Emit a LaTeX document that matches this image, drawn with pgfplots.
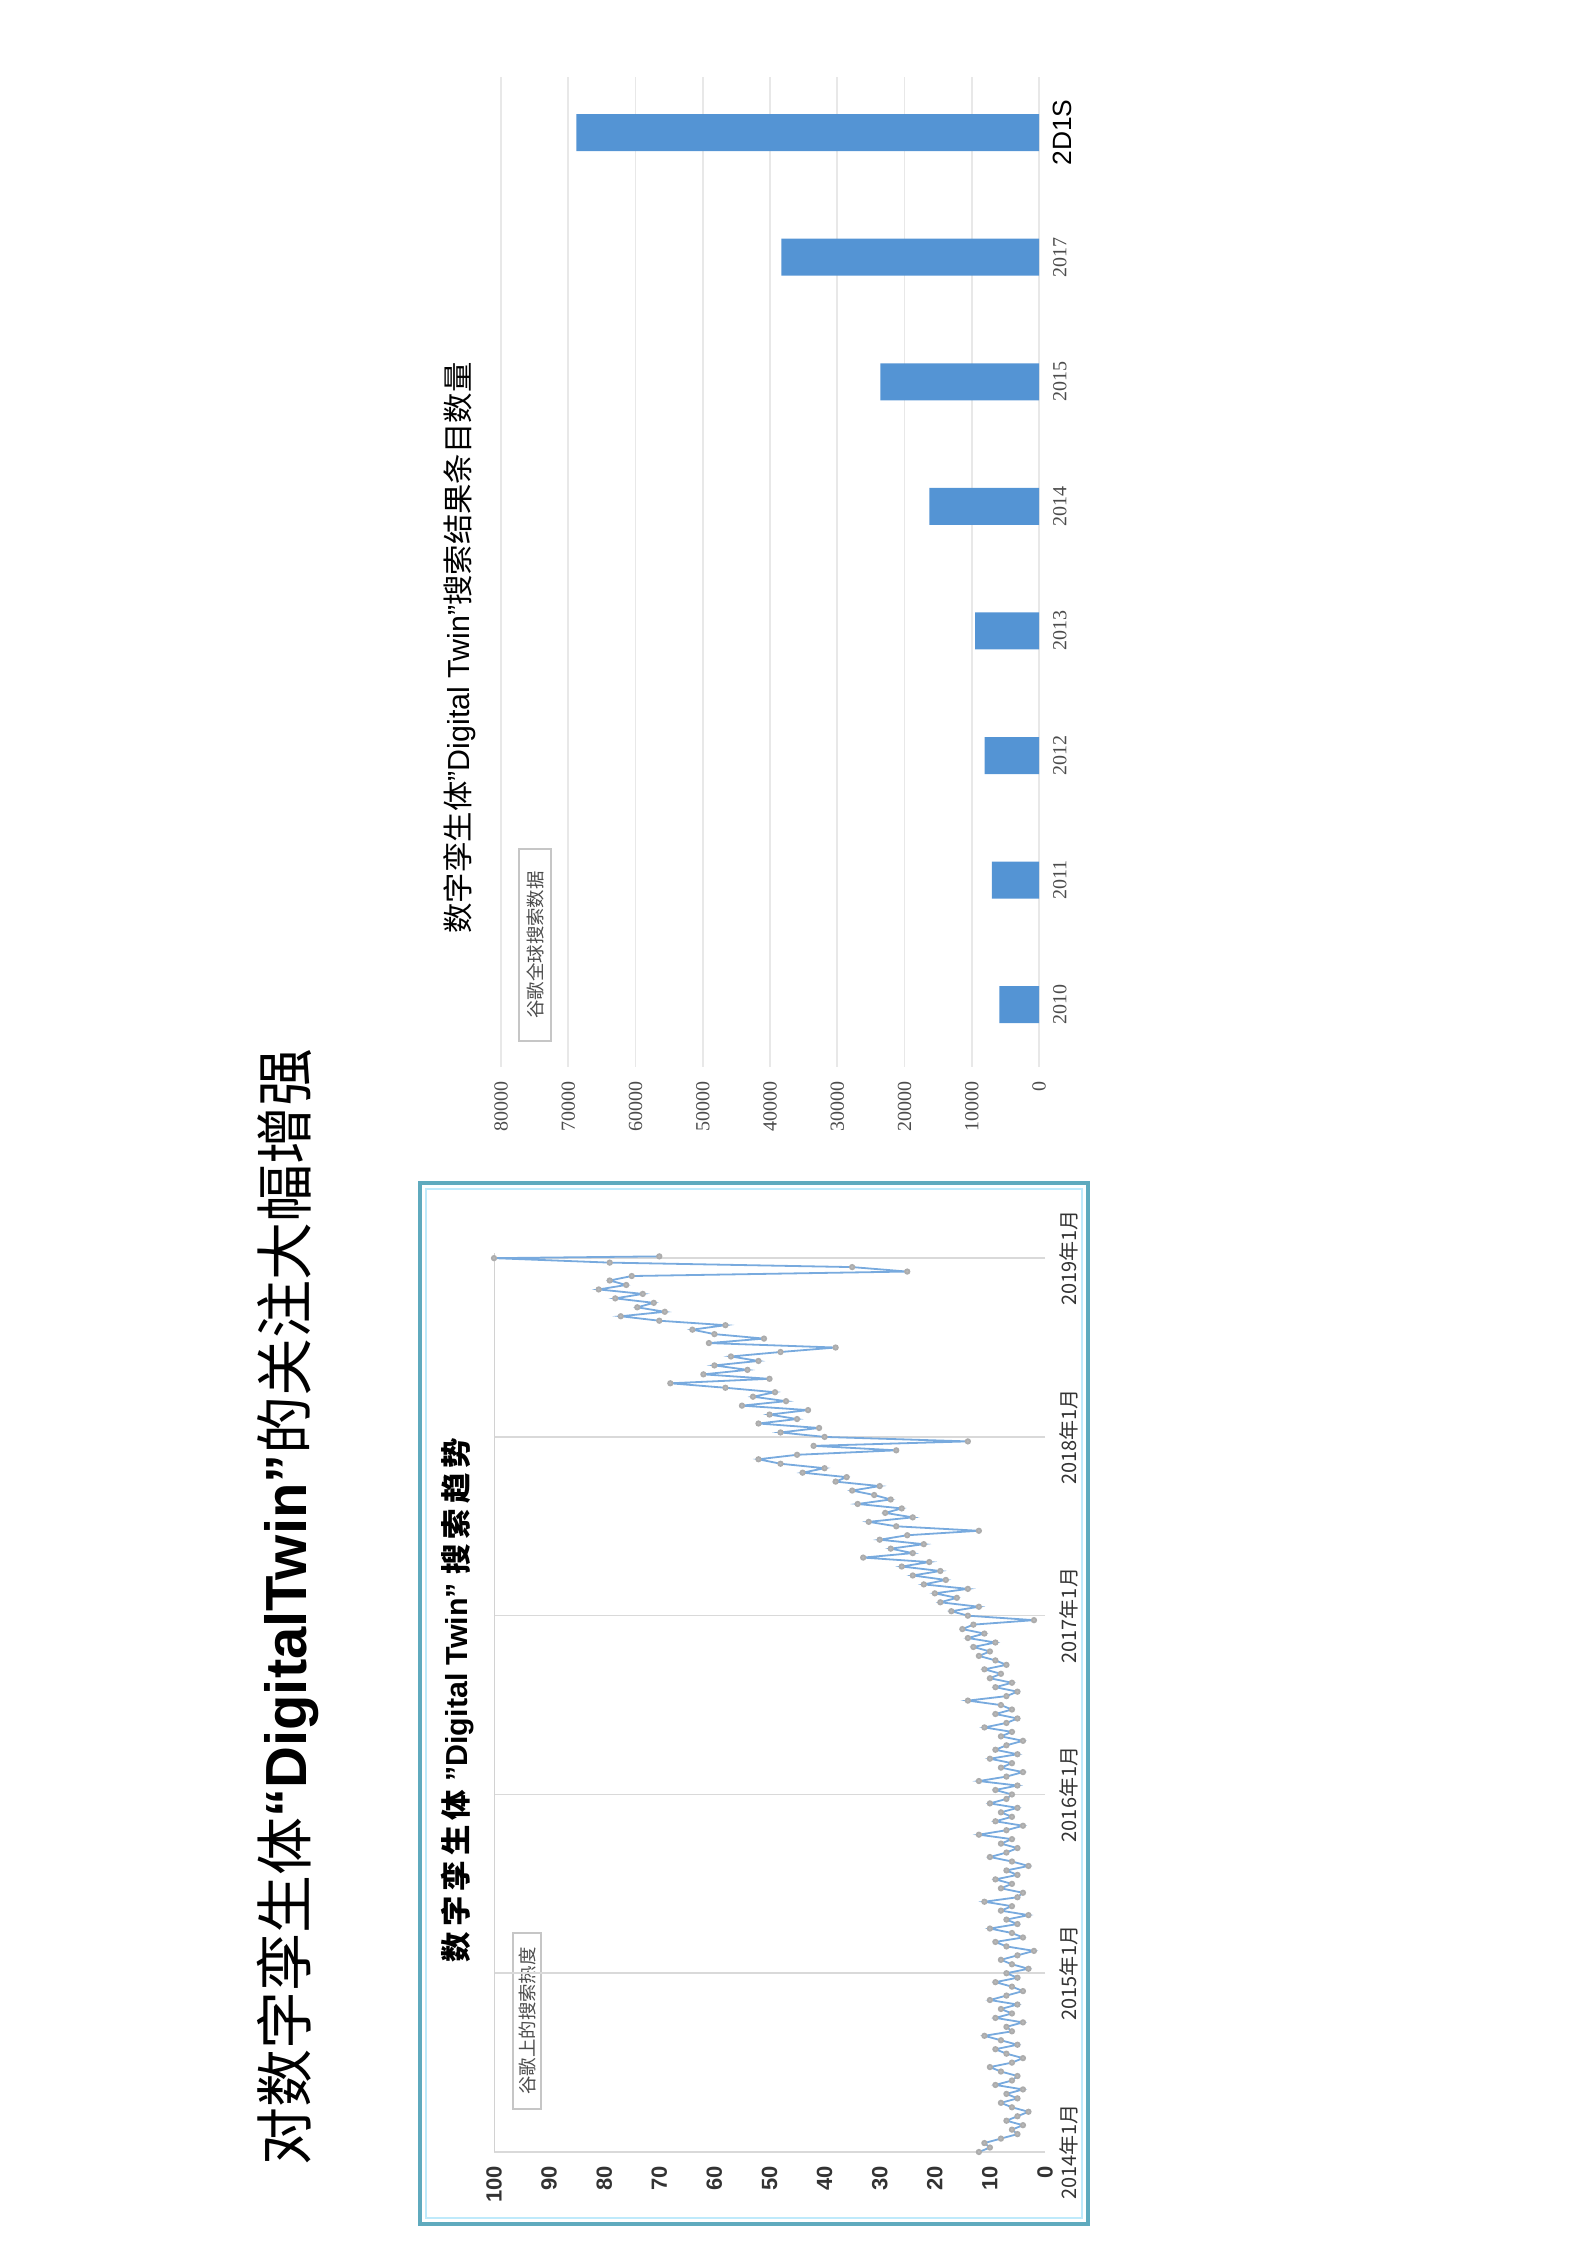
\documentclass[border=0pt]{standalone}
\usepackage{fontspec}
\setmainfont{Liberation Sans}
\newfontfamily\cjk{Noto Sans CJK SC}
\newfontfamily\numserif{Liberation Serif}
\usepackage{pgfplots}
\usepackage{pgfplotstable}
\pgfplotsset{compat=1.18}

\definecolor{barblue}{RGB}{84,148,212}
\definecolor{lineblue}{RGB}{120,170,222}
\definecolor{boxteal}{RGB}{95,170,190}

% search results per year (bar chart)
\pgfplotstableread{
pos val
0 5900
1 7000
2 8100
3 9500
4 16300
5 23600
6 38300
7 68800
}\results

% search interest over time (line chart), years since Jan 2014
\pgfplotstableread{
yr val
0.000 12
0.025 10
0.050 11
0.075 8
0.100 5
0.125 6
0.150 4
0.175 7
0.200 5
0.225 3
0.250 6
0.275 8
0.300 5
0.325 7
0.350 4
0.375 9
0.400 6
0.425 5
0.450 8
0.475 10
0.500 6
0.525 4
0.550 7
0.575 9
0.600 5
0.625 8
0.650 11
0.675 6
0.700 7
0.725 4
0.750 9
0.775 6
0.800 8
0.825 5
0.850 10
0.875 7
0.900 4
0.925 6
0.950 9
0.975 5
1.000 7
1.025 3
1.050 6
1.075 8
1.100 5
1.125 2
1.150 7
1.175 9
1.200 4
1.225 6
1.250 10
1.275 5
1.300 7
1.325 3
1.350 8
1.375 6
1.400 11
1.425 5
1.450 4
1.475 8
1.500 6
1.525 9
1.550 5
1.575 7
1.600 3
1.625 6
1.650 10
1.675 7
1.700 5
1.725 8
1.750 6
1.775 12
1.800 7
1.825 4
1.850 9
1.875 6
1.900 8
1.925 5
1.950 10
1.975 7
2.000 6
2.025 9
2.050 5
2.075 12
2.100 7
2.125 4
2.150 8
2.175 6
2.200 10
2.225 5
2.250 9
2.275 7
2.300 4
2.325 8
2.350 6
2.375 11
2.400 7
2.425 5
2.450 9
2.475 6
2.500 8
2.525 14
2.550 7
2.575 5
2.600 9
2.625 6
2.650 10
2.675 8
2.700 11
2.725 7
2.750 9
2.775 12
2.800 10
2.825 13
2.850 9
2.875 14
2.900 11
2.925 15
2.950 13
2.975 2
3.000 14
3.025 17
3.050 12
3.075 19
3.100 16
3.125 20
3.150 14
3.175 22
3.200 18
3.225 24
3.250 19
3.275 26
3.300 21
3.325 33
3.350 24
3.375 28
3.400 22
3.425 30
3.450 25
3.475 12
3.500 27
3.525 32
3.550 24
3.575 29
3.600 26
3.625 34
3.650 28
3.675 31
3.700 35
3.725 30
3.750 38
3.775 36
3.800 44
3.825 40
3.850 48
3.875 52
3.900 45
3.925 27
3.950 42
3.975 14
4.000 40
4.025 48
4.050 41
4.075 52
4.100 45
4.125 50
4.150 43
4.175 55
4.200 47
4.225 53
4.250 49
4.275 58
4.300 68
4.325 50
4.350 62
4.375 54
4.400 60
4.425 52
4.450 57
4.475 48
4.500 38
4.525 61
4.550 51
4.575 60
4.600 64
4.625 58
4.650 70
4.675 77
4.700 69
4.725 74
4.750 71
4.775 78
4.800 73
4.825 81
4.850 76
4.875 79
4.900 75
4.925 25
4.950 35
4.975 79
5.000 100
5.010 70
}\trend

\begin{document}
\begin{tikzpicture}[x=0.25pt,y=0.25pt]
\path[use as bounding box] (0,0) rectangle (1586,2244);

% page title
\node[rotate=90, font=\fontsize{14.5}{16}\selectfont, inner sep=0pt] at (288,637)
  {{\cjk 对数字孪生体}\textbf{“DigitalTwin”}{\cjk 的关注大幅增强}};

% ---------- bar chart ----------
\node[rotate=90, font=\fontsize{7.6}{9}\selectfont, inner sep=0pt] at (460,1596)
  {{\cjk 数字孪生体}"Digital Twin"{\cjk 搜索结果条目数量}};
\node[rotate=90, draw=gray!45, line width=0.3pt, font=\cjk\fontsize{4.6}{5}\selectfont,
      minimum width=48pt, minimum height=8pt, inner sep=1pt, text=black!70] at (535,1299)
  {谷歌全球搜索数据};

\begin{axis}[
    at={(125.25pt,294.25pt)}, anchor=south west,
    scale only axis, width=134.5pt, height=247.6pt,
    xbar, bar width=9.25pt,
    xmin=0, xmax=80000, x dir=reverse,
    ymin=-0.5, ymax=7.45,
    enlargelimits=false,
    axis line style={draw=none},
    major tick length=0pt,
    xtick={0,10000,...,80000},
    scaled x ticks=false,
    /pgf/number format/assume math mode=true,
    /pgf/number format/set thousands separator={},
    xticklabel style={rotate=90, anchor=east, text=black!70,
      font=\numserif\fontsize{5}{6}\selectfont},
    xmajorgrids, grid style={gray!18, line width=0.4pt},
    ytick={0,...,7},
    yticklabels={2010,2011,2012,2013,2014,2015,2017,
      {\normalfont\fontsize{6.6}{7}\selectfont\color{black} 2D1S}},
    yticklabel pos=right,
    yticklabel style={rotate=90, anchor=north, text=black!70,
      font=\numserif\fontsize{5}{6}\selectfont},
]
\addplot[fill=barblue, draw=none] table[x=val, y=pos] {\results};
\end{axis}

% ---------- line chart ----------
\draw[boxteal, line width=1.2pt] (420,1061) rectangle (1088,20);
\draw[cyan!25, line width=0.6pt] (426,1055) rectangle (1082,26);

\node[rotate=90, font=\bfseries\fontsize{7.6}{9}\selectfont, inner sep=0pt] at (458,544)
  {{\cjk 数\,字\,孪\,生\,体} "Digital Twin" {\cjk 搜\,索\,趋\,势}};
\node[rotate=90, draw=gray!45, line width=0.3pt, font=\cjk\fontsize{4.6}{5}\selectfont,
      minimum width=44pt, minimum height=7pt, inner sep=1pt, text=black!70] at (527,223)
  {谷歌上的搜索热度};

\begin{axis}[
    at={(123.5pt,23pt)}, anchor=south west,
    scale only axis, width=137.75pt, height=224.8pt,
    xmin=0, xmax=100, x dir=reverse,
    ymin=0, ymax=5.03,
    enlargelimits=false,
    axis line style={draw=none},
    major tick length=0pt,
    xtick={0,10,...,100},
    /pgf/number format/assume math mode=true,
    xticklabel style={rotate=90, anchor=east, text=black!80,
      font=\bfseries\fontsize{5.5}{6}\selectfont},
    ytick={0,...,5},
    yticklabels={{\cjk 2014年1月},{\cjk 2015年1月},{\cjk 2016年1月},
      {\cjk 2017年1月},{\cjk 2018年1月},{\cjk 2019年1月}},
    yticklabel pos=right,
    yticklabel style={rotate=90, anchor=north, text=black!80,
      font=\fontsize{5}{6}\selectfont},
    ymajorgrids, grid style={gray!30, line width=0.4pt},
]
\draw[gray!35, line width=0.4pt] (axis cs:100,0) -- (axis cs:100,5.03);
\addplot[lineblue, line width=0.45pt, mark=*, mark size=0.55pt,
  mark options={fill=gray!55, draw=gray!65}] table[x=val, y=yr] {\trend};
\end{axis}
\end{tikzpicture}
\end{document}
